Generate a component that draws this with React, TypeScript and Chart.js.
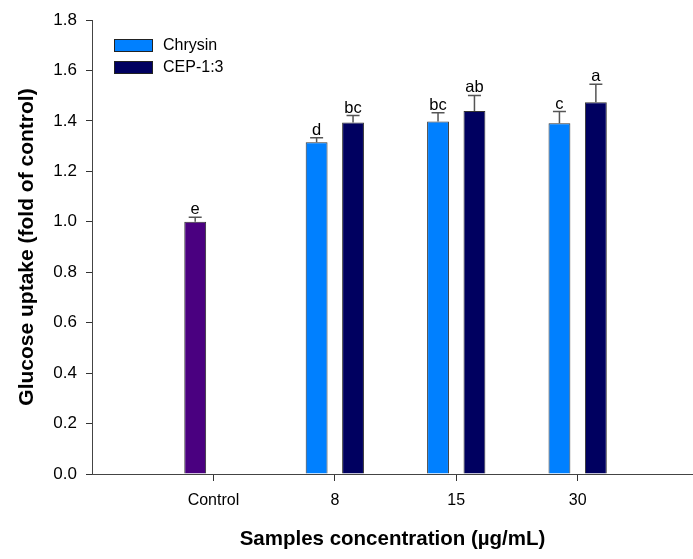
import React, { useEffect, useRef } from 'react';
import { Chart, registerables } from 'chart.js';

Chart.register(...registerables);

// Groups along the x axis and where their ticks sit
const concentrations = ['Control', '8', '15', '30'];
const groupPositions = [1, 2, 3, 4];

// Glucose uptake (fold of control): means, error bars and significance letters
const controlMean = [1.0];
const controlErr = [0.018];
const controlLetters = ['e'];

const chrysinMean = [1.315, 1.398, 1.391];
const chrysinErr = [0.018, 0.034, 0.046];
const chrysinLetters = ['d', 'bc', 'c'];

const cepMean = [1.394, 1.439, 1.474];
const cepErr = [0.027, 0.062, 0.071];
const cepLetters = ['bc', 'ab', 'a'];

const FONT = '"Liberation Sans", Arial, sans-serif';
const BAR_SHIFT = 0.15; // half the distance between paired bars, in axis units

// Upper error whisker with a cap, plus the letter above it
const errorBarPlugin = {
  id: 'errorBars',
  afterDatasetsDraw(chart: any) {
    const { ctx } = chart;
    const yScale = chart.scales.y;
    chart.data.datasets.forEach((ds: any, di: number) => {
      const meta = chart.getDatasetMeta(di);
      meta.data.forEach((bar: any, i: number) => {
        const v = ds.data[i].y;
        const top = yScale.getPixelForValue(v + ds.errors[i]);
        ctx.save();
        ctx.strokeStyle = '#555';
        ctx.lineWidth = 1.5;
        ctx.beginPath();
        ctx.moveTo(bar.x, bar.y);
        ctx.lineTo(bar.x, top);
        ctx.moveTo(bar.x - 6.5, top);
        ctx.lineTo(bar.x + 6.5, top);
        ctx.stroke();
        ctx.fillStyle = '#000';
        ctx.font = `16.5px ${FONT}`;
        ctx.textAlign = 'center';
        ctx.textBaseline = 'alphabetic';
        ctx.fillText(ds.letters[i], bar.x, top - 3);
        ctx.restore();
      });
    });
  },
};

// Legend boxes inside the plot, upper left
const insetLegendPlugin = {
  id: 'insetLegend',
  afterDraw(chart: any) {
    const { ctx, chartArea } = chart;
    const items = chart.data.datasets.filter((d: any) => d.inLegend);
    items.forEach((ds: any, i: number) => {
      const x = chartArea.left + 22;
      const y = chartArea.top + 19 + i * 22;
      ctx.save();
      ctx.fillStyle = ds.backgroundColor;
      ctx.fillRect(x, y, 39, 13);
      ctx.strokeStyle = '#222';
      ctx.lineWidth = 1;
      ctx.strokeRect(x + 0.5, y + 0.5, 38, 12);
      ctx.fillStyle = '#000';
      ctx.font = `16px ${FONT}`;
      ctx.textBaseline = 'middle';
      ctx.textAlign = 'left';
      ctx.fillText(ds.label, x + 49, y + 7);
      ctx.restore();
    });
  },
};

export default function App() {
  const canvasRef = useRef<HTMLCanvasElement | null>(null);

  useEffect(() => {
    const canvas = canvasRef.current;
    if (!canvas) return;

    const datasets: any[] = [
      {
        label: 'Control',
        data: controlMean.map((y, i) => ({ x: groupPositions[i] - BAR_SHIFT, y })),
        errors: controlErr,
        letters: controlLetters,
        backgroundColor: '#4a0080',
        inLegend: false,
      },
      {
        label: 'Chrysin',
        data: chrysinMean.map((y, i) => ({ x: groupPositions[i + 1] - BAR_SHIFT, y })),
        errors: chrysinErr,
        letters: chrysinLetters,
        backgroundColor: '#0080ff',
        inLegend: true,
      },
      {
        label: 'CEP-1:3',
        data: cepMean.map((y, i) => ({ x: groupPositions[i + 1] + BAR_SHIFT, y })),
        errors: cepErr,
        letters: cepLetters,
        backgroundColor: '#000060',
        inLegend: true,
      },
    ];
    datasets.forEach((d) => {
      d.borderColor = '#333';
      d.borderWidth = 1;
      d.grouped = false;
      d.barPercentage = 0.6;
      d.categoryPercentage = 1;
    });

    const chart = new Chart(canvas, {
      type: 'bar',
      data: { datasets },
      plugins: [errorBarPlugin, insetLegendPlugin],
      options: {
        animation: false,
        responsive: false,
        devicePixelRatio: 1,
        layout: { padding: { top: 20, right: 0, left: 0, bottom: 0 } },
        plugins: {
          legend: { display: false },
          tooltip: { enabled: false },
        },
        scales: {
          x: {
            type: 'linear',
            min: 0,
            max: 4.95,
            offset: false,
            afterBuildTicks: (axis: any) => {
              axis.ticks = groupPositions.map((v) => ({ value: v }));
            },
            afterFit: (scale: any) => {
              scale.height = 85;
            },
            grid: {
              offset: false,
              drawOnChartArea: false,
              tickLength: 7,
              color: '#333',
            },
            border: { color: '#444', width: 1 },
            ticks: {
              padding: 10,
              color: '#000',
              font: { family: FONT, size: 16 },
              callback: (value: any) => {
                const idx = groupPositions.indexOf(Number(value));
                return idx >= 0 ? concentrations[idx] : '';
              },
            },
            title: {
              display: true,
              text: 'Samples concentration (µg/mL)',
              color: '#000',
              font: { family: FONT, size: 20.5, weight: 'bold' },
              padding: { top: 0, bottom: 7 },
            },
          },
          y: {
            min: 0,
            max: 1.8,
            afterFit: (scale: any) => {
              scale.width = 92;
            },
            grid: {
              drawOnChartArea: false,
              tickLength: 6,
              color: '#333',
            },
            border: { color: '#444', width: 1 },
            ticks: {
              stepSize: 0.2,
              padding: 9,
              color: '#000',
              font: { family: FONT, size: 17 },
              callback: (value: any) => Number(value).toFixed(1),
            },
            title: {
              display: true,
              text: 'Glucose uptake (fold of control)',
              color: '#000',
              font: { family: FONT, size: 21, weight: 'bold' },
              padding: { top: 14.5, bottom: 0 },
            },
          },
        },
      } as any,
    });

    return () => chart.destroy();
  }, []);

  return (
    <div style={{ position: 'fixed', left: 0, top: 0, width: 693, height: 559, background: '#fff' }}>
      <canvas ref={canvasRef} width={693} height={559} style={{ display: 'block' }} />
    </div>
  );
}
